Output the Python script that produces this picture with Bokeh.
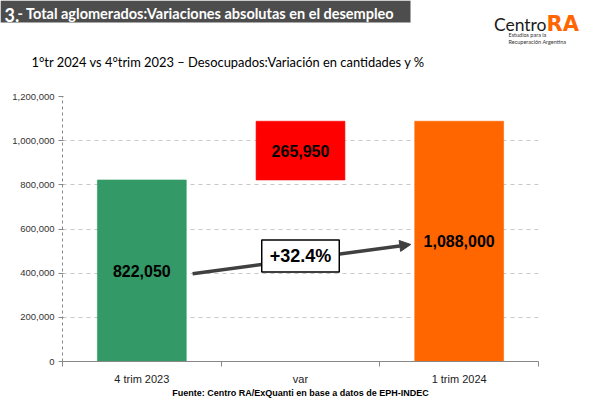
from bokeh.plotting import figure
from bokeh.layouts import column
from bokeh.models import (Range1d, FixedTicker, NumeralTickFormatter, Label,
                          Arrow, NormalHead, BoxAnnotation, ColumnDataSource)
from bokeh.core.properties import value
from bokeh.embed import file_html
from bokeh.resources import INLINE

# ---- data ----
periods = ["4 trim 2023", "var", "1 trim 2024"]
bar_bottom = [0, 822050, 0]
bar_top = [822050, 1088000, 1088000]
y_ticks = [0, 200000, 400000, 600000, 800000, 1000000, 1200000]
title_num = "3."
title_text = "- Total aglomerados:Variaciones absolutas en el desempleo"
subtitle = "1°tr 2024 vs 4°trim 2023 – Desocupados:Variación en cantidades y %"
source_text = "Fuente: Centro RA/ExQuanti en base a datos de EPH-INDEC"
logo_a, logo_b = "Centro", "RA"
logo_sub = ["Estudios para la", "Recuperación Argentina"]

# ---- styles ----
bar_colors = ["#339966", "#FF0000", "#FF6600"]
AX_FONT = "Liberation Sans"
HUM_FONT = "Lato"
W = 586
HEAD_H = 80

# ================= header =================
h = figure(width=W, height=HEAD_H, x_range=Range1d(0, W), y_range=Range1d(HEAD_H, 0),
           output_backend="svg", toolbar_location=None,
           x_axis_location=None, y_axis_location=None,
           min_border_left=0, min_border_right=0, min_border_top=0, min_border_bottom=0)
h.frame_align = False
h.grid.visible = False
h.outline_line_color = None
h.background_fill_color = "white"
h.border_fill_color = "white"

h.add_layout(BoxAnnotation(left=0, right=410, top=0, bottom=22,
                           fill_color="#4d4d4d", fill_alpha=1,
                           line_color="#a8a8a8", line_width=1))
h.add_layout(Label(x=4, y=14, text=title_num, text_font=HUM_FONT, text_font_style="bold",
                   text_font_size="18px", text_color="white", text_baseline="alphabetic"))
h.add_layout(Label(x=17, y=13, text=title_text, text_font=HUM_FONT, text_font_style="bold",
                   text_font_size="14.5px", text_color="white", text_baseline="alphabetic"))
h.add_layout(Label(x=31, y=61, text=subtitle, text_font=HUM_FONT, text_font_size="12.9px",
                   text_color="black", text_baseline="alphabetic"))
h.add_layout(Label(x=546, y=23.5, text=logo_a, text_font=HUM_FONT, text_font_size="17.5px",
                   text_color="#1a1a1a", text_align="right", text_baseline="alphabetic"))
h.add_layout(Label(x=546, y=23.5, text=logo_b, text_font="DejaVu Sans", text_font_style="bold",
                   text_font_size="21px", text_color="#FF6600", text_align="left",
                   text_baseline="alphabetic"))
for i, s in enumerate(logo_sub):
    h.add_layout(Label(x=508, y=34 + 7 * i, text=s, text_font=HUM_FONT,
                       text_font_size="5.5px", text_color="#333333", text_baseline="middle"))

# ================= main chart =================
x_centers = [i + 0.5 for i in range(len(periods))]
bar_w = 0.56
labels = [f"{t - b:,}" for b, t in zip(bar_bottom, bar_top)]
mid_y = [(b + t) / 2 for b, t in zip(bar_bottom, bar_top)]
pct = bar_top[2] / bar_top[0] - 1
pct_text = f"+{pct * 100:.1f}%"
arrow_dy = -14000

src = ColumnDataSource(dict(x=x_centers, bottom=bar_bottom, top=bar_top,
                            color=bar_colors, label=labels, mid=mid_y))

p = figure(width=W, height=400 - HEAD_H, x_range=Range1d(0, len(periods)),
           y_range=Range1d(0, y_ticks[-1]), output_backend="svg",
           toolbar_location=None, min_border_left=62, min_border_right=48,
           min_border_top=16, min_border_bottom=38)
p.frame_align = False
p.outline_line_color = None
p.background_fill_color = "white"
p.border_fill_color = "white"

p.xaxis.ticker = FixedTicker(ticks=x_centers, minor_ticks=list(range(len(periods) + 1)))
p.xaxis.major_label_overrides = {xc: name for xc, name in zip(x_centers, periods)}
p.xaxis.major_tick_out = 0
p.xaxis.major_tick_in = 0
p.xaxis.minor_tick_out = 5
p.xaxis.minor_tick_in = 0
p.xaxis.minor_tick_line_color = "#888888"
p.xaxis.axis_line_color = "#888888"
p.xaxis.major_label_standoff = 6
p.xaxis.major_label_text_font = AX_FONT
p.xaxis.major_label_text_font_size = "11px"
p.xaxis.major_label_text_color = "#222222"
p.xaxis.axis_label = source_text
p.xaxis.axis_label_text_font = AX_FONT
p.xaxis.axis_label_text_font_style = "bold"
p.xaxis.axis_label_text_font_size = "9px"
p.xaxis.axis_label_text_color = "black"
p.xaxis.axis_label_standoff = 0

p.yaxis.ticker = FixedTicker(ticks=y_ticks)
p.yaxis.formatter = NumeralTickFormatter(format="0,0")
p.yaxis.minor_tick_line_color = None
p.yaxis.major_tick_out = 4
p.yaxis.major_tick_in = 1
p.yaxis.major_tick_line_color = "#888888"
p.yaxis.axis_line_color = "#888888"
p.yaxis.axis_line_dash = "3 3"
p.yaxis.major_label_standoff = 4
p.yaxis.major_label_text_font = AX_FONT
p.yaxis.major_label_text_font_size = "9.5px"
p.yaxis.major_label_text_color = "#333333"

p.xgrid.grid_line_color = None
p.ygrid.grid_line_color = "#c8c8c8"
p.ygrid.grid_line_dash = "4 4"

p.vbar(x="x", width=bar_w, bottom="bottom", top="top", fill_color="color",
       line_color="color", line_alpha=0.6, source=src)
p.text(x="x", y="mid", text="label", source=src, text_font=value(AX_FONT),
       text_font_style="bold", text_font_size="16px", text_align="center",
       text_baseline="middle", text_color="black")

p.add_layout(Arrow(end=NormalHead(size=11, fill_color="#404040", line_color="#404040"),
                   x_start=x_centers[0] + bar_w / 2 + 0.04, y_start=bar_top[0] / 2 + arrow_dy,
                   x_end=x_centers[2] - bar_w / 2 - 0.025, y_end=bar_top[2] / 2 + arrow_dy,
                   line_width=3.5, line_color="#404040"))

p.add_layout(Label(x=x_centers[1], y=(bar_top[0] / 2 + bar_top[2] / 2) / 2, y_offset=0,
                   text=pct_text, text_align="center", text_baseline="middle",
                   text_font=AX_FONT, text_font_style="bold", text_font_size="18px",
                   text_color="black", background_fill_color="white",
                   border_line_color="black", border_line_width=1.5, padding=(8, 6)))

open("out.html", "w").write(file_html(column(h, p), INLINE))
